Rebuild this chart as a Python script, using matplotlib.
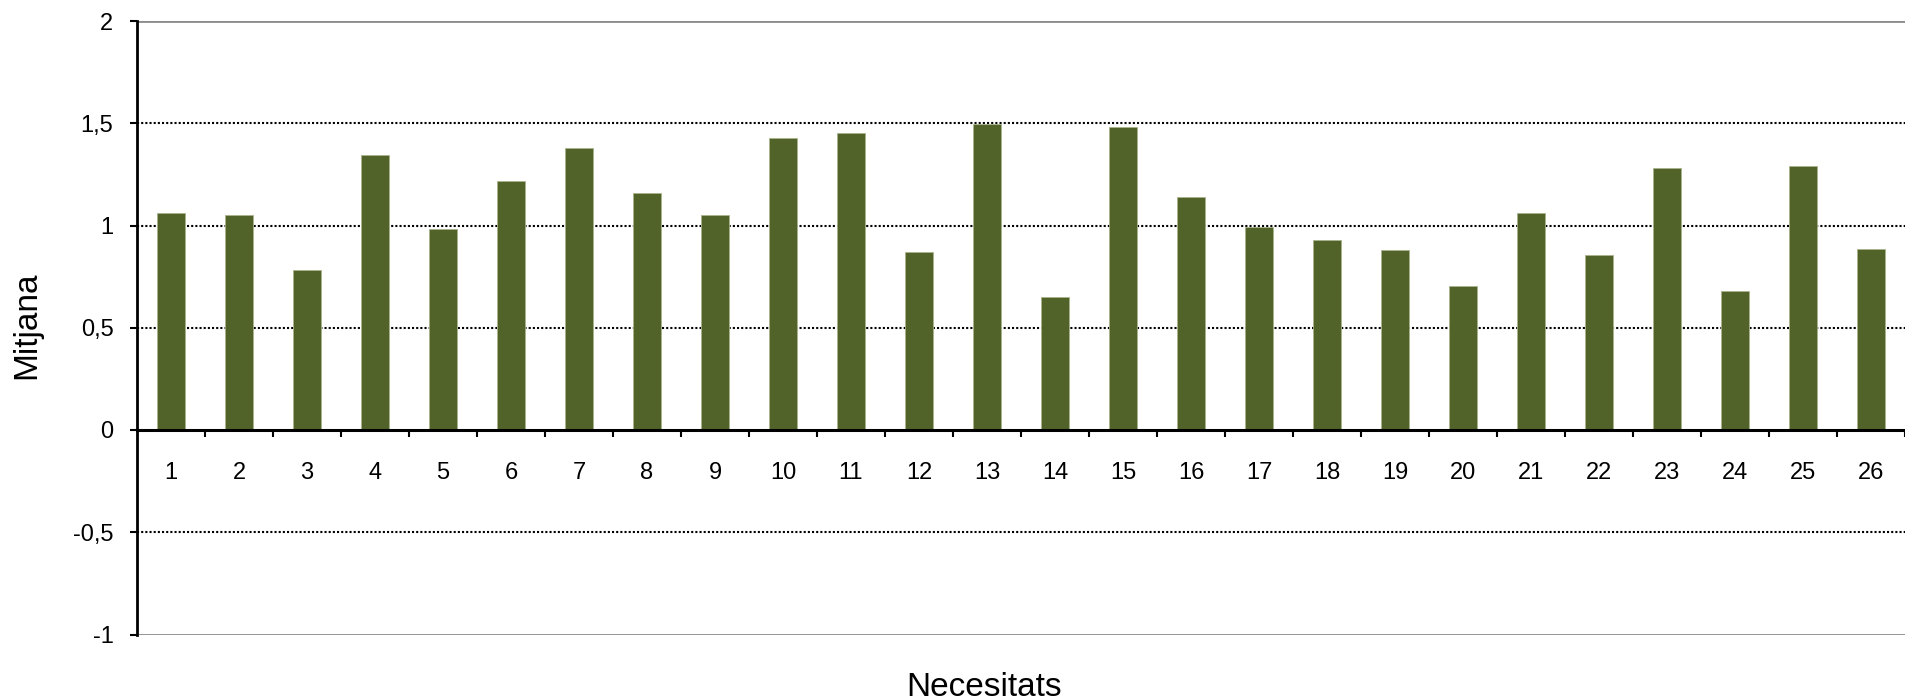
import numpy as np
import matplotlib
matplotlib.use("Agg")
import matplotlib.pyplot as plt

plt.rcParams['font.family'] = ['Liberation Sans', 'DejaVu Sans']

# data
categories = [str(i) for i in range(1, 27)]
mitjana = [1.06, 1.049, 0.781, 1.347, 0.982, 1.216, 1.381, 1.16, 1.049, 1.427,
           1.45, 0.871, 1.496, 0.649, 1.483, 1.139, 0.993, 0.928, 0.882, 0.704,
           1.059, 0.858, 1.282, 0.681, 1.293, 0.883]
y_ticks = [-1, -0.5, 0, 0.5, 1, 1.5, 2]
y_tick_labels = ['-1', '-0,5', '0', '0,5', '1', '1,5', '2']

W, H = 1905, 700
fig = plt.figure(figsize=(W / 100, H / 100), dpi=100)

left_px, top_px, bottom_px = 137, 21, 634.5
ax = fig.add_axes([left_px / W, 1 - bottom_px / H, (W - left_px) / W, (bottom_px - top_px) / H])

spacing_px = 68.64
x = np.arange(1, len(categories) + 1)
ax.bar(x, mitjana, width=0.4, color='#52632a', edgecolor='#a9b38c', linewidth=0.6, zorder=3)

ax.set_xlim(0.5, 0.5 + (W - left_px) / spacing_px)
ax.set_ylim(-1, 2)

# gridlines
for v in [-0.5, 0.5, 1, 1.5]:
    ax.axhline(v, color='black', linestyle=(0, (1, 1)), linewidth=1.5, zorder=1)
for v in [-1, 2]:
    ax.axhline(v, color='#8c8c8c', linewidth=2, zorder=1)

for s in ['top', 'right']:
    ax.spines[s].set_visible(False)
ax.spines['left'].set_linewidth(2)
ax.spines['left'].set_zorder(4)
ax.spines['bottom'].set_position(('data', 0))
ax.spines['bottom'].set_linewidth(2.2)
ax.spines['bottom'].set_zorder(4)

ax.set_yticks(y_ticks)
ax.set_yticklabels(y_tick_labels)
ax.tick_params(axis='y', direction='out', length=5, width=1.5, pad=12, labelsize=17)

# category boundary ticks, labels on minor ticks at centres
ax.set_xticks(np.arange(1.5, len(categories) + 1.5, 1))
ax.set_xticklabels([])
ax.tick_params(axis='x', which='major', direction='out', length=5, width=1.5)
ax.set_xticks(x, minor=True)
ax.set_xticklabels(categories, minor=True)
ax.tick_params(axis='x', which='minor', length=0, pad=23, labelsize=17)

fig.text(984 / W, 1 - 688 / H, 'Necesitats', ha='center', va='center', fontsize=24)
fig.text(27 / W, 1 - 325 / H, 'Mitjana', ha='center', va='center', rotation=90, fontsize=24)

fig.savefig('out.png', dpi=100)
